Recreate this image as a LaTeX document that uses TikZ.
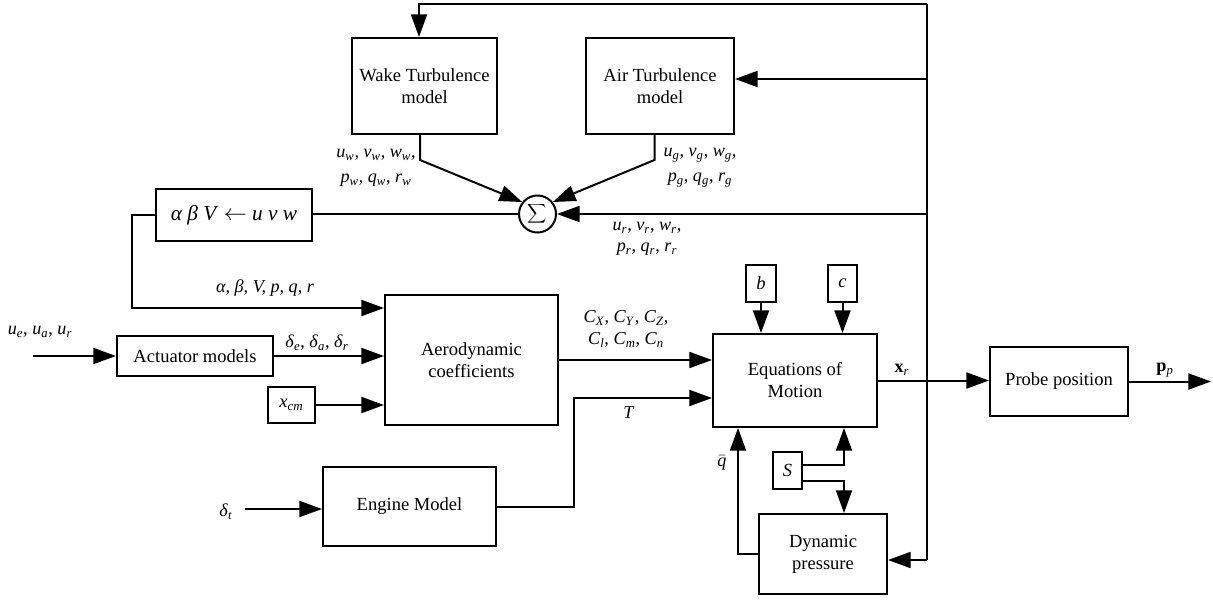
\documentclass[tikz,border=0pt]{standalone}
\usepackage{fontspec}
\setmainfont{Liberation Serif}
\usetikzlibrary{arrows.meta}
\newcommand\vs[2]{\textit{#1}\textsubscript{\textit{#2}}}
\begin{document}
\begin{tikzpicture}[x=0.75pt,y=-0.75pt,
 line width=1.5pt,
 arr/.style={-{Triangle[length=17pt,width=12pt]}},
 bx/.style 2 args={draw, line width=1.5pt, minimum width=#1*0.75pt, minimum height=#2*0.75pt, inner sep=0pt, align=center, font=\fontsize{13.9}{16.5}\selectfont},
 lbl/.style={inner sep=0pt, align=center, font=\fontsize{13.6}{18.75}\selectfont}
]
\useasboundingbox (0,0) rectangle (1213,601);
% boxes
\node[bx={145}{96}] (wake) at (424.5,86) {Wake Turbulence\\model};
\node[bx={148}{96}] (air) at (660,86) {Air Turbulence\\model};
\node[draw, circle, minimum size=37*0.75pt, inner sep=0pt] (sum) at (537.5,214) {};
\node[inner sep=0pt] (sumsym) at (sum) {\fontsize{14.5}{16}\selectfont$\displaystyle\sum$};
\node[bx={156}{52}, line width=1.2pt, font=\fontsize{16}{18}\selectfont] (conv) at (234,215) {\textit{α β V} $\leftarrow$ \textit{u v w}};
\node[bx={173}{130}] (aero) at (471.5,360) {Aerodynamic\\coefficients};
\node[bx={156}{40}] (act) at (195,356) {Actuator models};
\node[bx={47}{36}] (xcm) at (291.5,405) {\vs{x}{cm}};
\node[bx={173}{79}] (eng) at (409.5,506.5) {Engine Model};
\node[bx={164}{93}] (eom) at (795,380.5) {Equations of\\Motion};
\node[bx={30}{37}] (b) at (761,283.5) {\textit{b}};
\node[bx={29}{37}] (c) at (842.5,283.5) {\textit{c}};
\node[bx={138}{69}] (probe) at (1059,381.5) {Probe position};
\node[bx={29}{37}] (S) at (787.5,470.5) {\textit{S}};
\node[bx={128}{80}] (dp) at (823,554) {Dynamic\\pressure};
% coordinates
\coordinate (rtop) at (927,4);
\coordinate (rbot) at (927,560);
\coordinate (wk) at (419,4);
\coordinate (ja) at (927,79);
\coordinate (js) at (927,214);
\coordinate (w1) at (420,160);
\coordinate (g1) at (654.5,160);
\coordinate (k1) at (131.5,308);
\coordinate (uin) at (33,356);
\coordinate (dtin) at (245,509);
\coordinate (e1) at (574,398);
\coordinate (pout) at (1211,381.5);
\coordinate (sx) at (844,470);
\coordinate (qx) at (738,554);
% connectors
\draw (rtop) -- (rbot);
\draw[arr] (rtop) -- (wk) -- (wk |- wake.north);
\draw[arr] (ja) -- (ja -| air.east);
\draw[arr] (js) -- (sum.east);
\draw[arr] (rbot) -- (rbot -| dp.east);
\draw[arr] (w1 |- wake.south) -- (w1) -- (sum.142);
\draw[arr] (g1 |- air.south) -- (g1) -- (sum.38);
\draw (sum.west) -- (sum.west -| conv.east);
\draw[arr] (conv.west) -| (k1) -- (k1 -| aero.west);
\draw[arr] (uin) -- (uin -| act.west);
\draw[arr] (act.east) -- (act.east -| aero.west);
\draw[arr] (xcm.east) -- (xcm.east -| aero.west);
\draw[arr] (dtin) -- (dtin -| eng.west);
\draw[arr] (eng.east) -| (e1) -- (e1 -| eom.west);
\draw[arr] (aero.east) -- (aero.east -| eom.west);
\draw[arr] (b.south) -- (b.south |- eom.north);
\draw[arr] (c.south) -- (c.south |- eom.north);
\draw[arr] (eom.east) -- (eom.east -| probe.west);
\draw[arr] (probe.east) -- (pout);
\draw[arr] (S.21) -| (sx |- eom.south);
\draw[arr] (S.-33) -| (sx |- dp.north);
\draw[arr] (dp.west) -- (qx) -- (qx |- eom.south);
% labels
\node[lbl] (lw) at (376,167.5) {\vs{u}{w}, \vs{v}{w}, \vs{w}{w},\\ \vs{p}{w}, \vs{q}{w}, \vs{r}{w}};
\node[lbl] (lg) at (700,167.5) {\vs{u}{g}, \vs{v}{g}, \vs{w}{g},\\ \vs{p}{g}, \vs{q}{g}, \vs{r}{g}};
\node[lbl, font=\fontsize{13.6}{15.75}\selectfont] (lr) at (647,238.5) {\vs{u}{r}, \vs{v}{r}, \vs{w}{r},\\ \vs{p}{r}, \vs{q}{r}, \vs{r}{r}};
\node[lbl] (lab) at (265,288) {\textit{α, β, V, p, q, r}};
\node[lbl] (lu) at (40,332) {\vs{u}{e}, \vs{u}{a}, \vs{u}{r}};
\node[lbl] (ld) at (317,343) {\vs{δ}{e}, \vs{δ}{a}, \vs{δ}{r}};
\node[lbl, font=\fontsize{13.6}{16.5}\selectfont] (lc) at (626,329) {\vs{C}{X}, \vs{C}{Y}, \vs{C}{Z},\\ \vs{C}{l}, \vs{C}{m}, \vs{C}{n}};
\node[lbl] (lT) at (629,413) {\textit{T}};
\node[lbl] (lx) at (902,370) {\textbf{x}\textsubscript{\textit{r}}};
\node[lbl] (lp) at (1165,370) {\textbf{p}\textsubscript{\textit{p}}};
\node[lbl] (ldt) at (226,512) {\vs{δ}{t}};
\node[lbl] (lq) at (722,463) {$\bar{\mbox{\textit{q}}}$};
\end{tikzpicture}
\end{document}
